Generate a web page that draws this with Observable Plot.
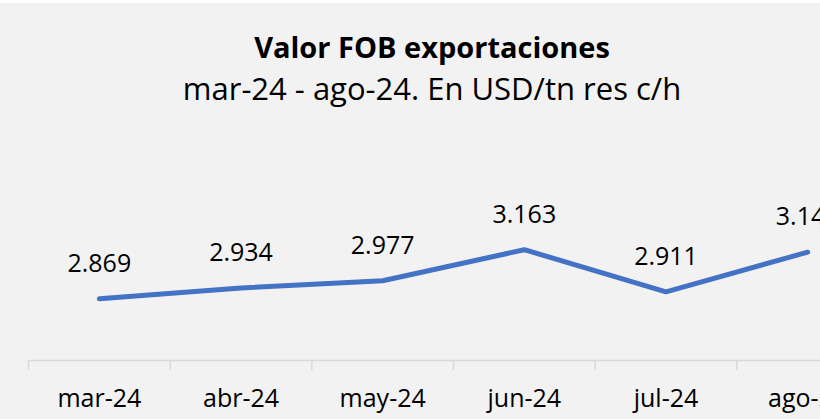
<!DOCTYPE html>
<html>
<head>
<meta charset="utf-8">
<script src="https://cdn.jsdelivr.net/npm/d3@7"></script>
<script src="https://cdn.jsdelivr.net/npm/@observablehq/plot@0.6"></script>
<style>
  html, body { margin: 0; padding: 0; overflow: hidden; background: #f2f2f2; }
  #wrap { position: relative; width: 864px; height: 419px; background: #f2f2f2; font-family: "Open Sans", sans-serif; }
  #topstrip { position: absolute; left: 0; top: 0; width: 864px; height: 3px; background: #ffffff; }
  #header { position: relative; height: 115px; }
  #title { position: absolute; left: 0; width: 864px; top: 32px; text-align: center; font-size: 29px; line-height: 29px; font-weight: 700; color: #000; }
  #subtitle { position: absolute; left: 0; width: 864px; top: 73px; text-align: center; font-size: 31px; line-height: 31px; font-weight: 400; color: #000; }
  svg { display: block; }
</style>
</head>
<body>
<div id="wrap">
  <div id="topstrip"></div>
  <div id="header">
    <div id="title">Valor FOB exportaciones</div>
    <div id="subtitle">mar-24 - ago-24. En USD/tn res c/h</div>
  </div>
  <div id="chart"></div>
</div>
<script>
const months = ["mar-24", "abr-24", "may-24", "jun-24", "jul-24", "ago-24"];
const values = [2869, 2934, 2977, 3163, 2911, 3148];
const yMin = 2500;
const yMax = 3200;

const data = months.map((m, i) => ({month: m, idx: i + 0.5, value: values[i]}));
const es = d3.formatLocale({decimal: ",", thousands: ".", grouping: [3], currency: ["$", ""]});
const fmt = es.format(",d");

const boundaries = d3.range(months.length + 1);
const centers = months.map((m, i) => i + 0.5);

const chart = Plot.plot({
  width: 864,
  height: 304,
  marginTop: 128,
  marginBottom: 59,
  marginLeft: 28,
  marginRight: 0,
  style: {background: "#f2f2f2", fontFamily: "Open Sans, sans-serif", overflow: "hidden"},
  x: {type: "linear", domain: [0, months.length], range: [28, 878], label: null},
  y: {domain: [yMin, yMax], axis: null, label: null},
  marks: [
    Plot.ruleY([yMin], {stroke: "#d9d9d9", strokeWidth: 1.5}),
    Plot.axisX(boundaries, {tickSize: 10, stroke: "#d9d9d9", strokeWidth: 1.5, strokeOpacity: 1, tickFormat: () => "", label: null}),
    Plot.axisX(centers, {tickSize: 0, tickPadding: 29, fontSize: 25, fill: "#000", tickFormat: (d) => months[Math.floor(d)], label: null}),
    Plot.line(data, {x: "idx", y: "value", stroke: "#4472C4", strokeWidth: 5, strokeLinecap: "round"}),
    Plot.text(data, {x: "idx", y: "value", text: (d) => fmt(d.value), dy: -27, lineAnchor: "bottom", fontSize: 25, fill: "#000"})
  ]
});
document.getElementById("chart").appendChild(chart);
</script>
</body>
</html>
